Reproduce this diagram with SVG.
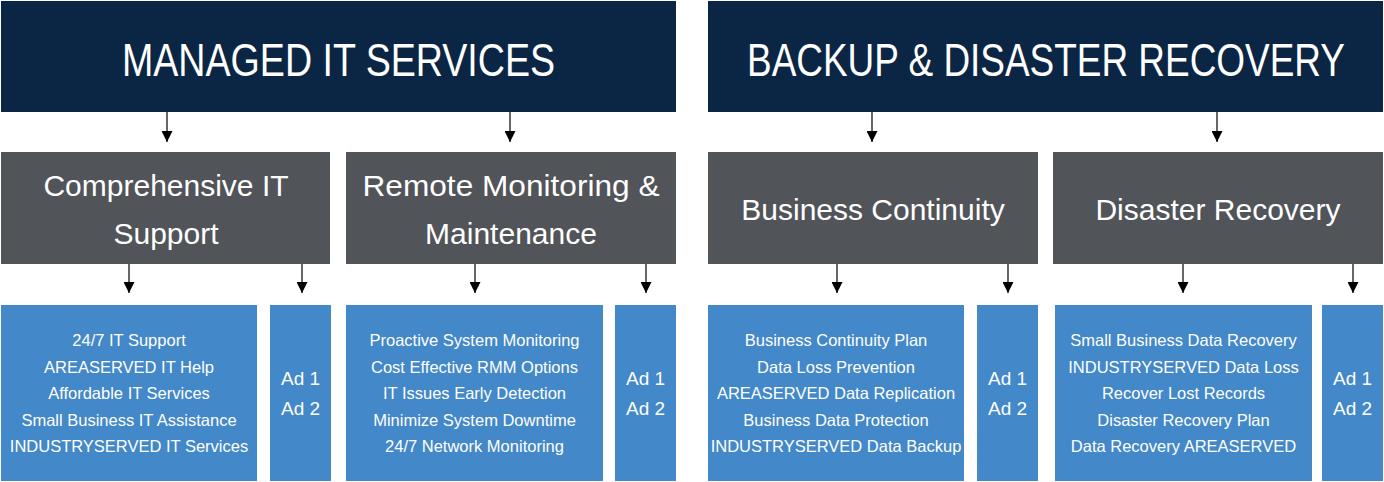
<svg xmlns="http://www.w3.org/2000/svg" width="1384" height="482" viewBox="0 0 1384 482">
<style>
.hdr{fill:#0b2644}
.sub{fill:#515458}
.item{fill:#4388c8}
text{font-family:"Liberation Sans",Arial,sans-serif;fill:#ffffff;text-anchor:middle}
.t1{font-size:47px}
.t2{font-size:30px}
.t3{font-size:16.5px}
.t4{font-size:19px}
.con line{stroke:#000;stroke-width:1.2;marker-end:url(#ah)}
</style>
<defs>
<marker id="ah" markerUnits="userSpaceOnUse" markerWidth="12" markerHeight="11" refX="11" refY="5.5" orient="auto">
<path d="M0,0 L11,5.5 L0,11 Z" fill="#000"/>
</marker>
</defs>
<rect width="1384" height="482" fill="#fff"/>
<g id="managed">
<rect class="hdr" x="1" y="1" width="675" height="111"/>
<text class="t1" transform="translate(338.5,76) scale(0.8,1)" x="0" y="0">MANAGED IT SERVICES</text>
</g>
<g id="backup">
<rect class="hdr" x="708" y="1" width="675" height="111"/>
<text class="t1" transform="translate(1046,76) scale(0.786,1)" x="0" y="0">BACKUP &amp; DISASTER RECOVERY</text>
</g>
<g id="comprehensive">
<rect class="sub" x="1" y="152" width="329" height="112"/>
<text class="t2" x="166" y="196">Comprehensive IT</text>
<text class="t2" x="166" y="244">Support</text>
</g>
<g id="remote">
<rect class="sub" x="346" y="152" width="330" height="112"/>
<text class="t2" x="511" y="196" textLength="297" lengthAdjust="spacingAndGlyphs">Remote Monitoring &amp;</text>
<text class="t2" x="511" y="244">Maintenance</text>
</g>
<g id="continuity">
<rect class="sub" x="708" y="152" width="330" height="112"/>
<text class="t2" x="873" y="220">Business Continuity</text>
</g>
<g id="recovery">
<rect class="sub" x="1053" y="152" width="330" height="112"/>
<text class="t2" x="1218" y="220">Disaster Recovery</text>
</g>
<g id="list1">
<rect class="item" x="1" y="305" width="256" height="176"/>
<text class="t3" x="129" y="346">24/7 IT Support</text>
<text class="t3" x="129" y="372.5">AREASERVED IT Help</text>
<text class="t3" x="129" y="399">Affordable IT Services</text>
<text class="t3" x="129" y="425.5">Small Business IT Assistance</text>
<text class="t3" x="129" y="452">INDUSTRYSERVED IT Services</text>
</g>
<g id="ads1">
<rect class="item" x="270" y="305" width="61" height="176"/>
<text class="t4" x="300.5" y="385">Ad 1</text>
<text class="t4" x="300.5" y="415">Ad 2</text>
</g>
<g id="list2">
<rect class="item" x="346" y="305" width="257" height="176"/>
<text class="t3" x="474.5" y="346">Proactive System Monitoring</text>
<text class="t3" x="474.5" y="372.5">Cost Effective RMM Options</text>
<text class="t3" x="474.5" y="399">IT Issues Early Detection</text>
<text class="t3" x="474.5" y="425.5">Minimize System Downtime</text>
<text class="t3" x="474.5" y="452">24/7 Network Monitoring</text>
</g>
<g id="ads2">
<rect class="item" x="615" y="305" width="61" height="176"/>
<text class="t4" x="645.5" y="385">Ad 1</text>
<text class="t4" x="645.5" y="415">Ad 2</text>
</g>
<g id="list3">
<rect class="item" x="708" y="305" width="256" height="176"/>
<text class="t3" x="836" y="346">Business Continuity Plan</text>
<text class="t3" x="836" y="372.5">Data Loss Prevention</text>
<text class="t3" x="836" y="399">AREASERVED Data Replication</text>
<text class="t3" x="836" y="425.5">Business Data Protection</text>
<text class="t3" x="836" y="452">INDUSTRYSERVED Data Backup</text>
</g>
<g id="ads3">
<rect class="item" x="977" y="305" width="61" height="176"/>
<text class="t4" x="1007.5" y="385">Ad 1</text>
<text class="t4" x="1007.5" y="415">Ad 2</text>
</g>
<g id="list4">
<rect class="item" x="1055" y="305" width="257" height="176"/>
<text class="t3" x="1183.5" y="346">Small Business Data Recovery</text>
<text class="t3" x="1183.5" y="372.5">INDUSTRYSERVED Data Loss</text>
<text class="t3" x="1183.5" y="399">Recover Lost Records</text>
<text class="t3" x="1183.5" y="425.5">Disaster Recovery Plan</text>
<text class="t3" x="1183.5" y="452">Data Recovery AREASERVED</text>
</g>
<g id="ads4">
<rect class="item" x="1322" y="305" width="61" height="176"/>
<text class="t4" x="1352.5" y="385">Ad 1</text>
<text class="t4" x="1352.5" y="415">Ad 2</text>
</g>
<g id="connectors" class="con">
<line x1="167" y1="112" x2="167" y2="142"/>
<line x1="510" y1="112" x2="510" y2="142"/>
<line x1="872" y1="112" x2="872" y2="142"/>
<line x1="1217" y1="112" x2="1217" y2="142"/>
<line x1="129" y1="264" x2="129" y2="293"/>
<line x1="302" y1="264" x2="302" y2="293"/>
<line x1="475" y1="264" x2="475" y2="293"/>
<line x1="646" y1="264" x2="646" y2="293"/>
<line x1="837" y1="264" x2="837" y2="293"/>
<line x1="1008" y1="264" x2="1008" y2="293"/>
<line x1="1183" y1="264" x2="1183" y2="293"/>
<line x1="1353" y1="264" x2="1353" y2="293"/>
</g>
</svg>
